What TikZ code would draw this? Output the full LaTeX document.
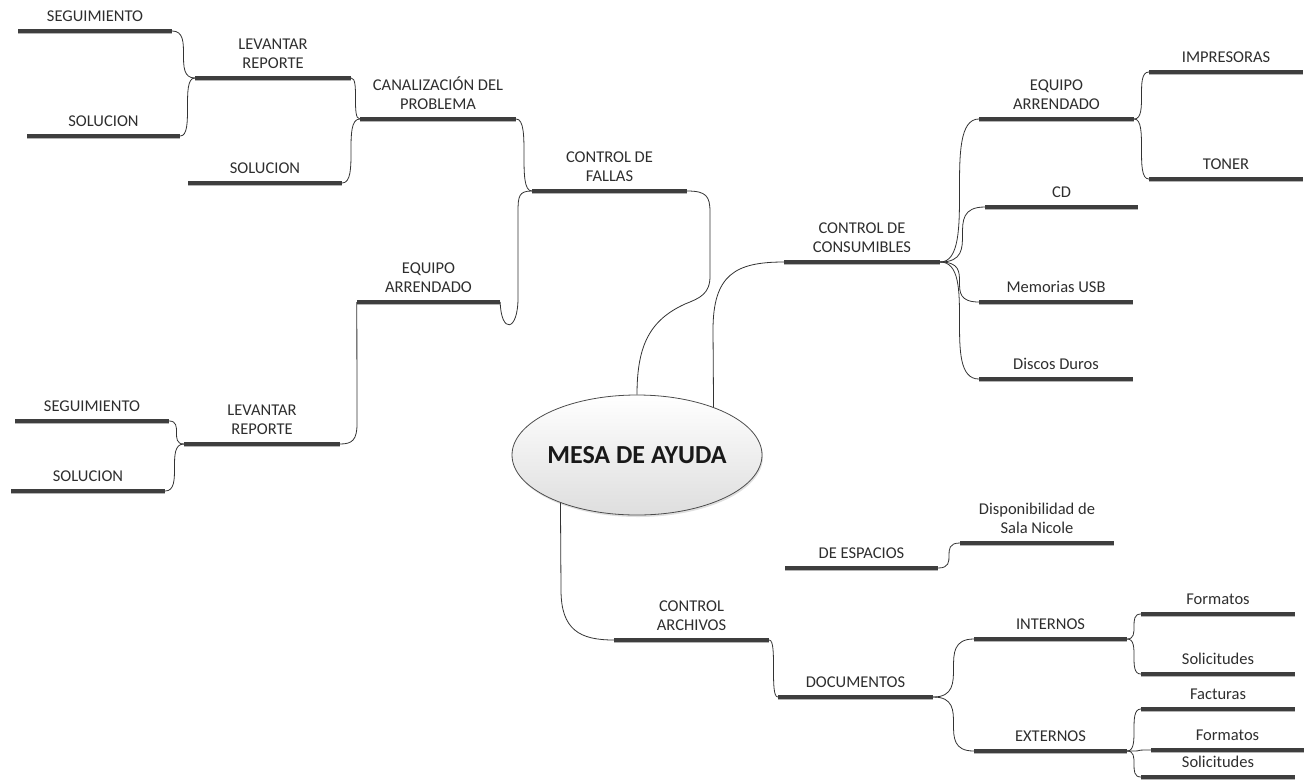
\documentclass[tikz,border=0pt]{standalone}
\usepackage{fontspec}
\setmainfont{Carlito}
\usetikzlibrary{shapes.geometric}
\definecolor{barc}{HTML}{3E3E3E}
\definecolor{barsh}{HTML}{B4B4B4}
\definecolor{txtc}{HTML}{2E2E2E}
\definecolor{linec}{HTML}{333333}
\newcommand\lblfont{\fontsize{16.5}{19.5}\selectfont}
\newcommand\mmc[2]{\draw[conn] (#1) .. controls (#1 -| #2) and (#2 -| #1) .. (#2);}
\begin{document}
\begin{tikzpicture}[x=1pt,y=-1pt,
  bar/.style={rectangle, fill=barc, draw=none, inner sep=0pt, minimum height=3.6pt, minimum width=#1,
    preaction={fill=barsh, transform canvas={yshift=-1.4pt}}},
  every label/.style={font=\lblfont, text=txtc, align=center, inner sep=0pt, text depth=0pt},
  label distance=7pt,
  conn/.style={draw=linec, line width=0.8pt},
  hub/.style={ellipse, draw=black!70, line width=0.8pt, top color=white, bottom color=black!13,
    minimum width=250pt, minimum height=120pt, inner sep=0pt,
    preaction={fill=black!12, transform canvas={shift={(1pt,-2pt)}}}}]
\useasboundingbox (0,0) rectangle (1313,780);

% centre
\node[hub] (mesa) at (637,455) {};
\node[font=\fontsize{26}{30}\selectfont\bfseries, text=black!90] (mesat) at (mesa.center) {MESA DE AYUDA};

% left top
\node[bar=154pt, label={above:SEGUIMIENTO}] (seg1) at (95,31) {};
\node[bar=156pt, label={above:LEVANTAR\\REPORTE}] (lev1) at (273,78) {};
\node[bar=153pt, label={above:SOLUCION}] (sol1) at (103.5,136) {};
\node[bar=156pt, label={above:CANALIZACIÓN DEL\\PROBLEMA}] (can) at (438,119) {};
\node[bar=154pt, label={above:SOLUCION}] (sol2) at (265,183) {};
\node[bar=155pt, label={above:CONTROL DE\\FALLAS}] (fallas) at (609.5,191) {};
\node[bar=143pt, label={above:EQUIPO\\ARRENDADO}] (eqL) at (428.5,302) {};
% left bottom
\node[bar=156pt, label={above:LEVANTAR\\REPORTE}] (lev2) at (262,444) {};
\node[bar=154pt, label={above:SEGUIMIENTO}] (seg2) at (92,421) {};
\node[bar=154pt, label={above:SOLUCION}] (sol3) at (88,491) {};
% right
\node[bar=156pt, label={above:CONTROL DE\\CONSUMIBLES}] (cons) at (862,262) {};
\node[bar=155pt, label={above:EQUIPO\\ARRENDADO}] (eqR) at (1056.5,119) {};
\node[bar=153pt, label={above:CD}] (cd) at (1061.5,207) {};
\node[bar=154pt, label={above:Memorias USB}] (usb) at (1056,302) {};
\node[bar=154pt, label={above:Discos Duros}] (dd) at (1056,379) {};
\node[bar=154pt, label={above:IMPRESORAS}] (imp) at (1226,72) {};
\node[bar=154pt, label={above:TONER}] (ton) at (1226,179) {};
% bottom
\node[bar=155pt, label={above:CONTROL\\ARCHIVOS}] (arch) at (691.5,640) {};
\node[bar=153pt, label={above:DE ESPACIOS}] (esp) at (861.5,568) {};
\node[bar=154pt, label={above:Disponibilidad de\\Sala Nicole}] (disp) at (1037,543) {};
\node[bar=155pt, label={above:DOCUMENTOS}] (doc) at (855.5,697) {};
\node[bar=153pt, label={above:INTERNOS}] (int) at (1050.5,639) {};
\node[bar=153pt, label={above:EXTERNOS}] (ext) at (1050.5,751) {};
\node[bar=154pt, label={above:Formatos}] (f1) at (1218,614) {};
\node[bar=154pt, label={above:Solicitudes}] (s1) at (1218,674) {};
\node[bar=154pt, label={above:Facturas}] (fac) at (1218,709) {};
\node[bar=153pt, label={above:Formatos}] (f2) at (1227.5,750) {};
\node[bar=154pt, label={above:Solicitudes}] (s2) at (1218,777) {};

% connectors
\mmc{seg1.east}{lev1.west}
\mmc{sol1.east}{lev1.west}
\mmc{lev1.east}{can.west}
\mmc{sol2.east}{can.west}
\mmc{can.east}{fallas.west}
\draw[conn] (fallas.west) .. controls (519,191) and (518,196) .. (518,212) -- (518,298)
  .. controls (518,332) and (501,334) .. (eqL.east);
\draw[conn] (fallas.east) .. controls (706,191) and (710,196) .. (710,212) -- (710,276)
  .. controls (710,294) and (700,298) .. (685,304) .. controls (650,320) and (637,345) .. (mesa.north);
\draw[conn] (eqL.west) -- (357,424) .. controls (357,440) and (352,444) .. (lev2.east);
\mmc{seg2.east}{lev2.west}
\mmc{sol3.east}{lev2.west}

\draw[conn] (mesa.32) -- (713,330) .. controls (713,275) and (735,262) .. (cons.west);
\mmc{cons.east}{eqR.west}
\mmc{cons.east}{cd.west}
\mmc{cons.east}{usb.west}
\mmc{cons.east}{dd.west}
\mmc{eqR.east}{imp.west}
\mmc{eqR.east}{ton.west}

\draw[conn] (mesa.212) -- (561,590) .. controls (561,630) and (580,640) .. (arch.west);
\mmc{arch.east}{doc.west}
\mmc{esp.east}{disp.west}
\mmc{doc.east}{int.west}
\mmc{doc.east}{ext.west}
\mmc{int.east}{f1.west}
\mmc{int.east}{s1.west}
\mmc{ext.east}{fac.west}
\mmc{ext.east}{f2.west}
\mmc{ext.east}{s2.west}
\end{tikzpicture}
\end{document}
